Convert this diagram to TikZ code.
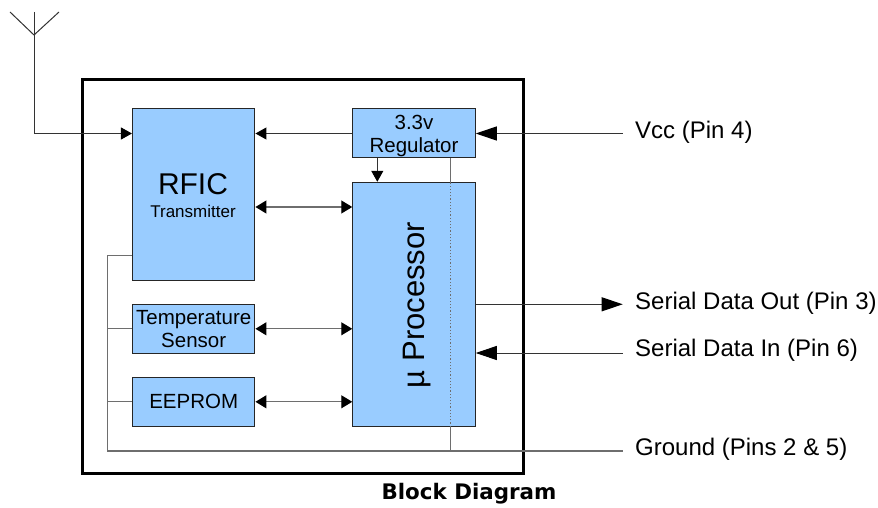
\documentclass[tikz,border=0pt]{standalone}
\usepackage{fontspec}
\setmainfont{Liberation Sans}
\newfontfamily\titlefont{DejaVu Sans}
\usetikzlibrary{arrows.meta}
\definecolor{blockblue}{HTML}{99CCFF}
\definecolor{wiregray}{HTML}{6E6E6E}
\tikzset{
    block/.style={draw=black!85,fill=blockblue,line width=1pt,inner sep=0pt,align=center,font=\fontsize{20.5}{24}\selectfont},
    wire/.style={draw=black!80,line width=1pt},
    gndwire/.style={draw=wiregray,line width=1.2pt},
    head/.style={-{Triangle[black,length=11pt,width=12pt]}},
    bighead/.style={-{Triangle[black,length=21pt,width=14pt]}},
    bothhead/.style={{Triangle[black,length=11pt,width=13pt]}-{Triangle[black,length=11pt,width=13pt]}},
    pinlabel/.style={anchor=west,inner sep=0pt,font=\fontsize{24}{28}\selectfont}
}
\begin{document}
\begin{tikzpicture}[x=1pt,y=-1pt]
    \useasboundingbox (0,0) rectangle (878,508);
    \node[draw,line width=2.2pt,minimum width=441pt,minimum height=394pt,inner sep=0pt] (frame) at (303,276.5) {};
    \node[block,minimum width=122.5pt,minimum height=171pt] (rfic) at (193.7,194.5) {};
    \node[font=\fontsize{30}{34}\selectfont,inner sep=0pt] (rficname) at (193,184) {RFIC};
    \node[font=\fontsize{17}{20}\selectfont,inner sep=0pt] (rficsub) at (193,211) {Transmitter};
    \node[block,minimum width=122.5pt,minimum height=49pt] (reg) at (414,133.5) {\rule{0pt}{20pt}3.3v\\[-1pt]Regulator};
    \node[block,minimum width=122.5pt,minimum height=244pt] (proc) at (414,304.3) {};
    \node[rotate=90,font=\fontsize{31}{34}\selectfont,inner sep=0pt] (procname) at (417,305) {µ Processor};
    \node[block,minimum width=122.5pt,minimum height=49pt] (temp) at (193.7,328.8) {Temperature\\[-1pt]Sensor};
    \node[block,minimum width=122.5pt,minimum height=49pt] (eeprom) at (193.7,401.8) {EEPROM};
    \node[pinlabel] (vcc) at (635,132) {Vcc (Pin 4)};
    \node[pinlabel] (sout) at (635,303) {Serial Data Out (Pin 3)};
    \node[pinlabel] (sin) at (635,350) {Serial Data In (Pin 6)};
    \node[pinlabel] (gnd) at (635,449) {Ground (Pins 2 \& 5)};
    \node[font=\titlefont\bfseries\fontsize{21.4}{24}\selectfont,inner sep=0pt] (title) at (469,494) {Block Diagram};

    \coordinate (anttip) at (34,12);
    \coordinate (antfoot) at (34,35);
    \coordinate (antleft) at (10,12);
    \coordinate (antright) at (59,12);
    \coordinate (antcorner) at (34,133.5);
    \coordinate (vccend) at (622.7,133.5);
    \coordinate (soutend) at (622.7,304.3);
    \coordinate (sinend) at (622.7,353);
    \coordinate (gndend) at (622.7,451);
    \coordinate (gndcorner) at (107.7,451);
    \coordinate (gndtop) at (107.7,255.5);
    \coordinate (gndtap) at (450.7,451);

    % antenna
    \draw[wire] (antleft) -- (antfoot) -- (antright);
    \draw[wire] (anttip) -- (antcorner);
    \draw[wire,head] (antcorner) -- (antcorner -| rfic.west);

    % supply
    \draw[wire,head] (reg.west) -- (reg.west -| rfic.east);
    \draw[wire,bighead] (vccend) -- (reg.east);
    \draw[wire,head] (reg.south -| 377.3,0) -- (proc.north -| 377.3,0);

    % data
    \draw[gndwire,bothhead] (rfic.east |- 0,207) -- (proc.west |- 0,207);
    \draw[gndwire,bothhead] (temp.east) -- (temp.east -| proc.west);
    \draw[gndwire,bothhead] (eeprom.east) -- (eeprom.east -| proc.west);
    \draw[wire,bighead] (proc.east |- soutend) -- (soutend);
    \draw[wire,bighead] (sinend) -- (sinend -| proc.east);

    % ground
    \draw[gndwire] (gndtop -| rfic.west) -- (gndtop) -- (gndcorner) -- (gndend);
    \draw[gndwire] (temp.west) -- (temp.west -| gndtop);
    \draw[gndwire] (eeprom.west) -- (eeprom.west -| gndtop);
    \draw[gndwire] (gndtap) -- (gndtap |- proc.south);
    \draw[gndwire,dotted] (gndtap |- proc.south) -- (gndtap |- proc.north);
    \draw[gndwire] (gndtap |- proc.north) -- (gndtap |- reg.south);
\end{tikzpicture}
\end{document}
